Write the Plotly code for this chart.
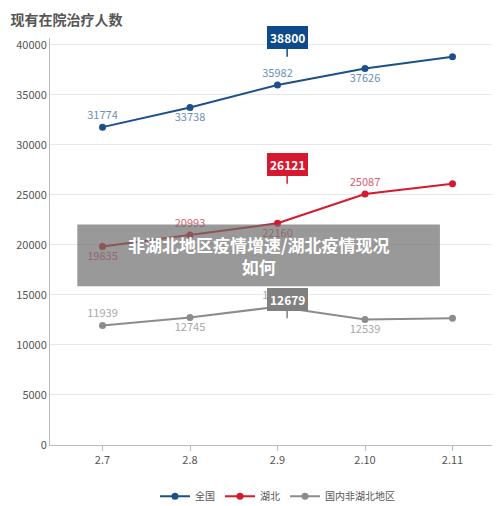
import plotly.graph_objects as go

dates = ["2.7", "2.8", "2.9", "2.10", "2.11"]
quanguo = [31774, 33738, 35982, 37626, 38800]
hubei = [19835, 20993, 22160, 25087, 26121]
fei_hubei = [11939, 12745, 13822, 12539, 12679]

series = [
    ("全国", quanguo, "#1d4f8a", "#6b8fb8", ["top center", "bottom center", "top center", "bottom center"]),
    ("湖北", hubei, "#d7192f", "#d76070", ["bottom center", "top center", "bottom center", "top center"]),
    ("国内非湖北地区", fei_hubei, "#8c8c8c", "#a8a8a8", ["top center", "bottom center", "top center", "bottom center"]),
]
box_colors = ["#0e4a8a", "#d7192f", "#808080"]

fig = go.Figure()
for (name, vals, color, tcolor, pos), bc in zip(series, box_colors):
    fig.add_trace(go.Scatter(
        x=dates, y=vals, name=name, mode="lines+markers+text",
        line=dict(color=color, width=2), marker=dict(size=7, color=color),
        text=[str(v) for v in vals[:-1]] + [""],
        textposition=pos + ["top center"],
        textfont=dict(color=tcolor, size=11),
    ))
    fig.add_annotation(
        x=dates[-1], y=vals[-1], text=f"<b>{vals[-1]}</b>", showarrow=True,
        arrowhead=0, arrowcolor=bc, arrowwidth=1.5, ax=0, ay=-19,
        bgcolor=bc, bordercolor=bc, borderpad=2, font=dict(color="white", size=12),
    )

# overlay caption box
fig.add_shape(type="rect", xref="paper", yref="paper", x0=0.06, x1=0.857,
              y0=0.39, y1=0.542, fillcolor="rgba(110,110,110,0.7)", line_width=0)
fig.add_annotation(xref="paper", yref="paper", x=0.46, y=0.466, showarrow=False,
                   text="<b>非湖北地区疫情增速/湖北疫情现况<br>如何</b>",
                   font=dict(color="white", size=17))

fig.update_layout(
    width=500, height=506, plot_bgcolor="white", paper_bgcolor="white",
    font=dict(family="Noto Sans CJK SC", color="#555"),
    margin=dict(l=42, r=3, t=30, b=60),
    title=dict(text="<b>现有在院治疗人数</b>", x=0.005, y=0.985, font=dict(size=14, color="#555")),
    legend=dict(orientation="h", x=0.5, xanchor="center", y=-0.09, font=dict(size=10)),
    xaxis=dict(type="category", range=[-0.6, 4.6], showline=True, linecolor="#bbb",
               ticks="outside", tickcolor="#bbb", tickfont=dict(size=11)),
    yaxis=dict(range=[0, 40685], dtick=5000, tickformat="d", showline=True, linecolor="#bbb",
               gridcolor="#e8e8e8", tickfont=dict(size=11), zeroline=False),
)
fig.write_html("out.html")
